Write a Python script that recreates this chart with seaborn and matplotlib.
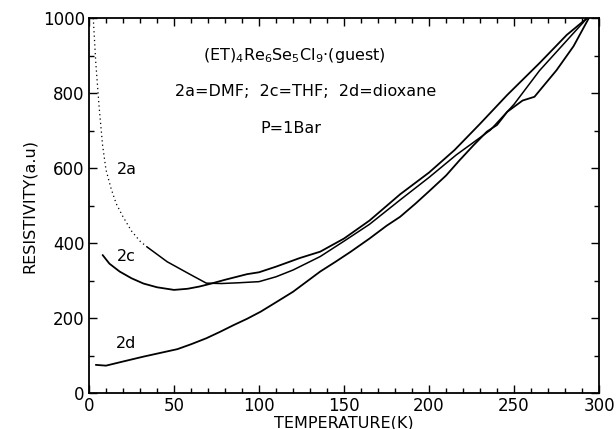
import numpy as np
import pandas as pd
import matplotlib
matplotlib.use("Agg")
import matplotlib.pyplot as plt
import seaborn as sns
from matplotlib.ticker import MultipleLocator

# ---- data ----
t_2c = [8, 12, 18, 25, 32, 40, 50, 58, 65, 72, 80, 93, 100, 110, 124, 136, 150, 165, 183, 200, 215, 230, 246, 265, 281, 293]
r_2c = [368, 345, 324, 306, 292, 282, 275, 278, 284, 292, 302, 317, 322, 337, 360, 377, 412, 460, 530, 588, 648, 718, 795, 880, 955, 1000]

t_2a = [2.5, 4, 6, 8, 10, 13, 16, 20, 25, 30, 34, 40, 46, 52, 60, 69, 78, 88, 100, 110, 120, 136, 150, 165, 183, 200, 216, 236, 250, 265, 283, 293]
r_2a = [1000, 880, 760, 660, 595, 545, 505, 470, 432, 405, 390, 370, 350, 335, 315, 293, 292, 294, 297, 310, 328, 364, 405, 450, 515, 575, 635, 701, 770, 860, 950, 1000]

t_2d = [4, 10, 20, 32, 42, 52, 60, 69, 77, 85, 93, 101, 110, 120, 128, 136, 145, 154, 165, 175, 183, 192, 200, 210, 218, 226, 234, 240, 246, 255, 262, 275, 285, 294]
r_2d = [75, 73, 84, 97, 107, 117, 130, 146, 163, 181, 198, 217, 242, 270, 297, 324, 350, 377, 412, 446, 470, 505, 538, 580, 621, 660, 697, 715, 750, 780, 790, 861, 925, 1000]

x_ticks = [0, 50, 100, 150, 200, 250, 300]
y_ticks = [0, 200, 400, 600, 800, 1000]

df_2c = pd.DataFrame({"T": t_2c, "R": r_2c})
df_2a = pd.DataFrame({"T": t_2a, "R": r_2a})
df_2d = pd.DataFrame({"T": t_2d, "R": r_2d})
n_dot = 10  # first points of 2a are drawn dotted
df_2a_dot = df_2a.iloc[:n_dot + 1]
df_2a_sol = df_2a.iloc[n_dot:]

sns.set_style("ticks")
plt.rcParams['font.family'] = ['DejaVu Sans']
plt.rcParams['text.color'] = 'black'
plt.rcParams['axes.labelcolor'] = 'black'
plt.rcParams['xtick.color'] = 'black'
plt.rcParams['ytick.color'] = 'black'

fig = plt.figure(figsize=(6.16, 4.29), dpi=100)
ax = fig.add_axes([0.1445, 0.0839, 0.828, 0.874])

kw = dict(x="T", y="R", ax=ax, color="black", sort=False, estimator=None)
sns.lineplot(data=df_2c, lw=1.3, **kw)
sns.lineplot(data=df_2a_sol, lw=1.1, **kw)
sns.lineplot(data=df_2a_dot, lw=0.9, linestyle=(0, (1, 2.5)), **kw)
sns.lineplot(data=df_2d, lw=1.3, **kw)

ax.set_xlim(0, 300)
ax.set_ylim(0, 1000)
ax.set_xticks(x_ticks)
ax.set_yticks(y_ticks)
ax.xaxis.set_minor_locator(MultipleLocator(10))
ax.yaxis.set_minor_locator(MultipleLocator(100))
ax.tick_params(which="both", direction="in", top=True, right=True, width=1.0,
               color="black", labelcolor="black")
ax.tick_params(which="major", length=6, labelsize=12, pad=3)
ax.tick_params(which="minor", length=3.5)
for s in ax.spines.values():
    s.set_linewidth(1.3)
    s.set_color("black")

ax.set_xlabel("TEMPERATURE(K)", fontsize=11.5, labelpad=0, color="black")
ax.set_ylabel("RESISTIVITY(a.u)", fontsize=11.5, labelpad=4, color="black")

tk = dict(ha="center", va="center", fontsize=11.5, color="black")
ax.text(121, 900, r"(ET)$_4$Re$_6$Se$_5$Cl$_9$$\cdot$(guest)", **tk)
ax.text(127.5, 803, "2a=DMF;  2c=THF;  2d=dioxane", **tk)
ax.text(118.7, 706, "P=1Bar", **tk)
ax.text(22.5, 596, "2a", **tk)
ax.text(21.8, 365, "2c", **tk)
ax.text(21.8, 131, "2d", **tk)

fig.savefig("out.png", dpi=100)
